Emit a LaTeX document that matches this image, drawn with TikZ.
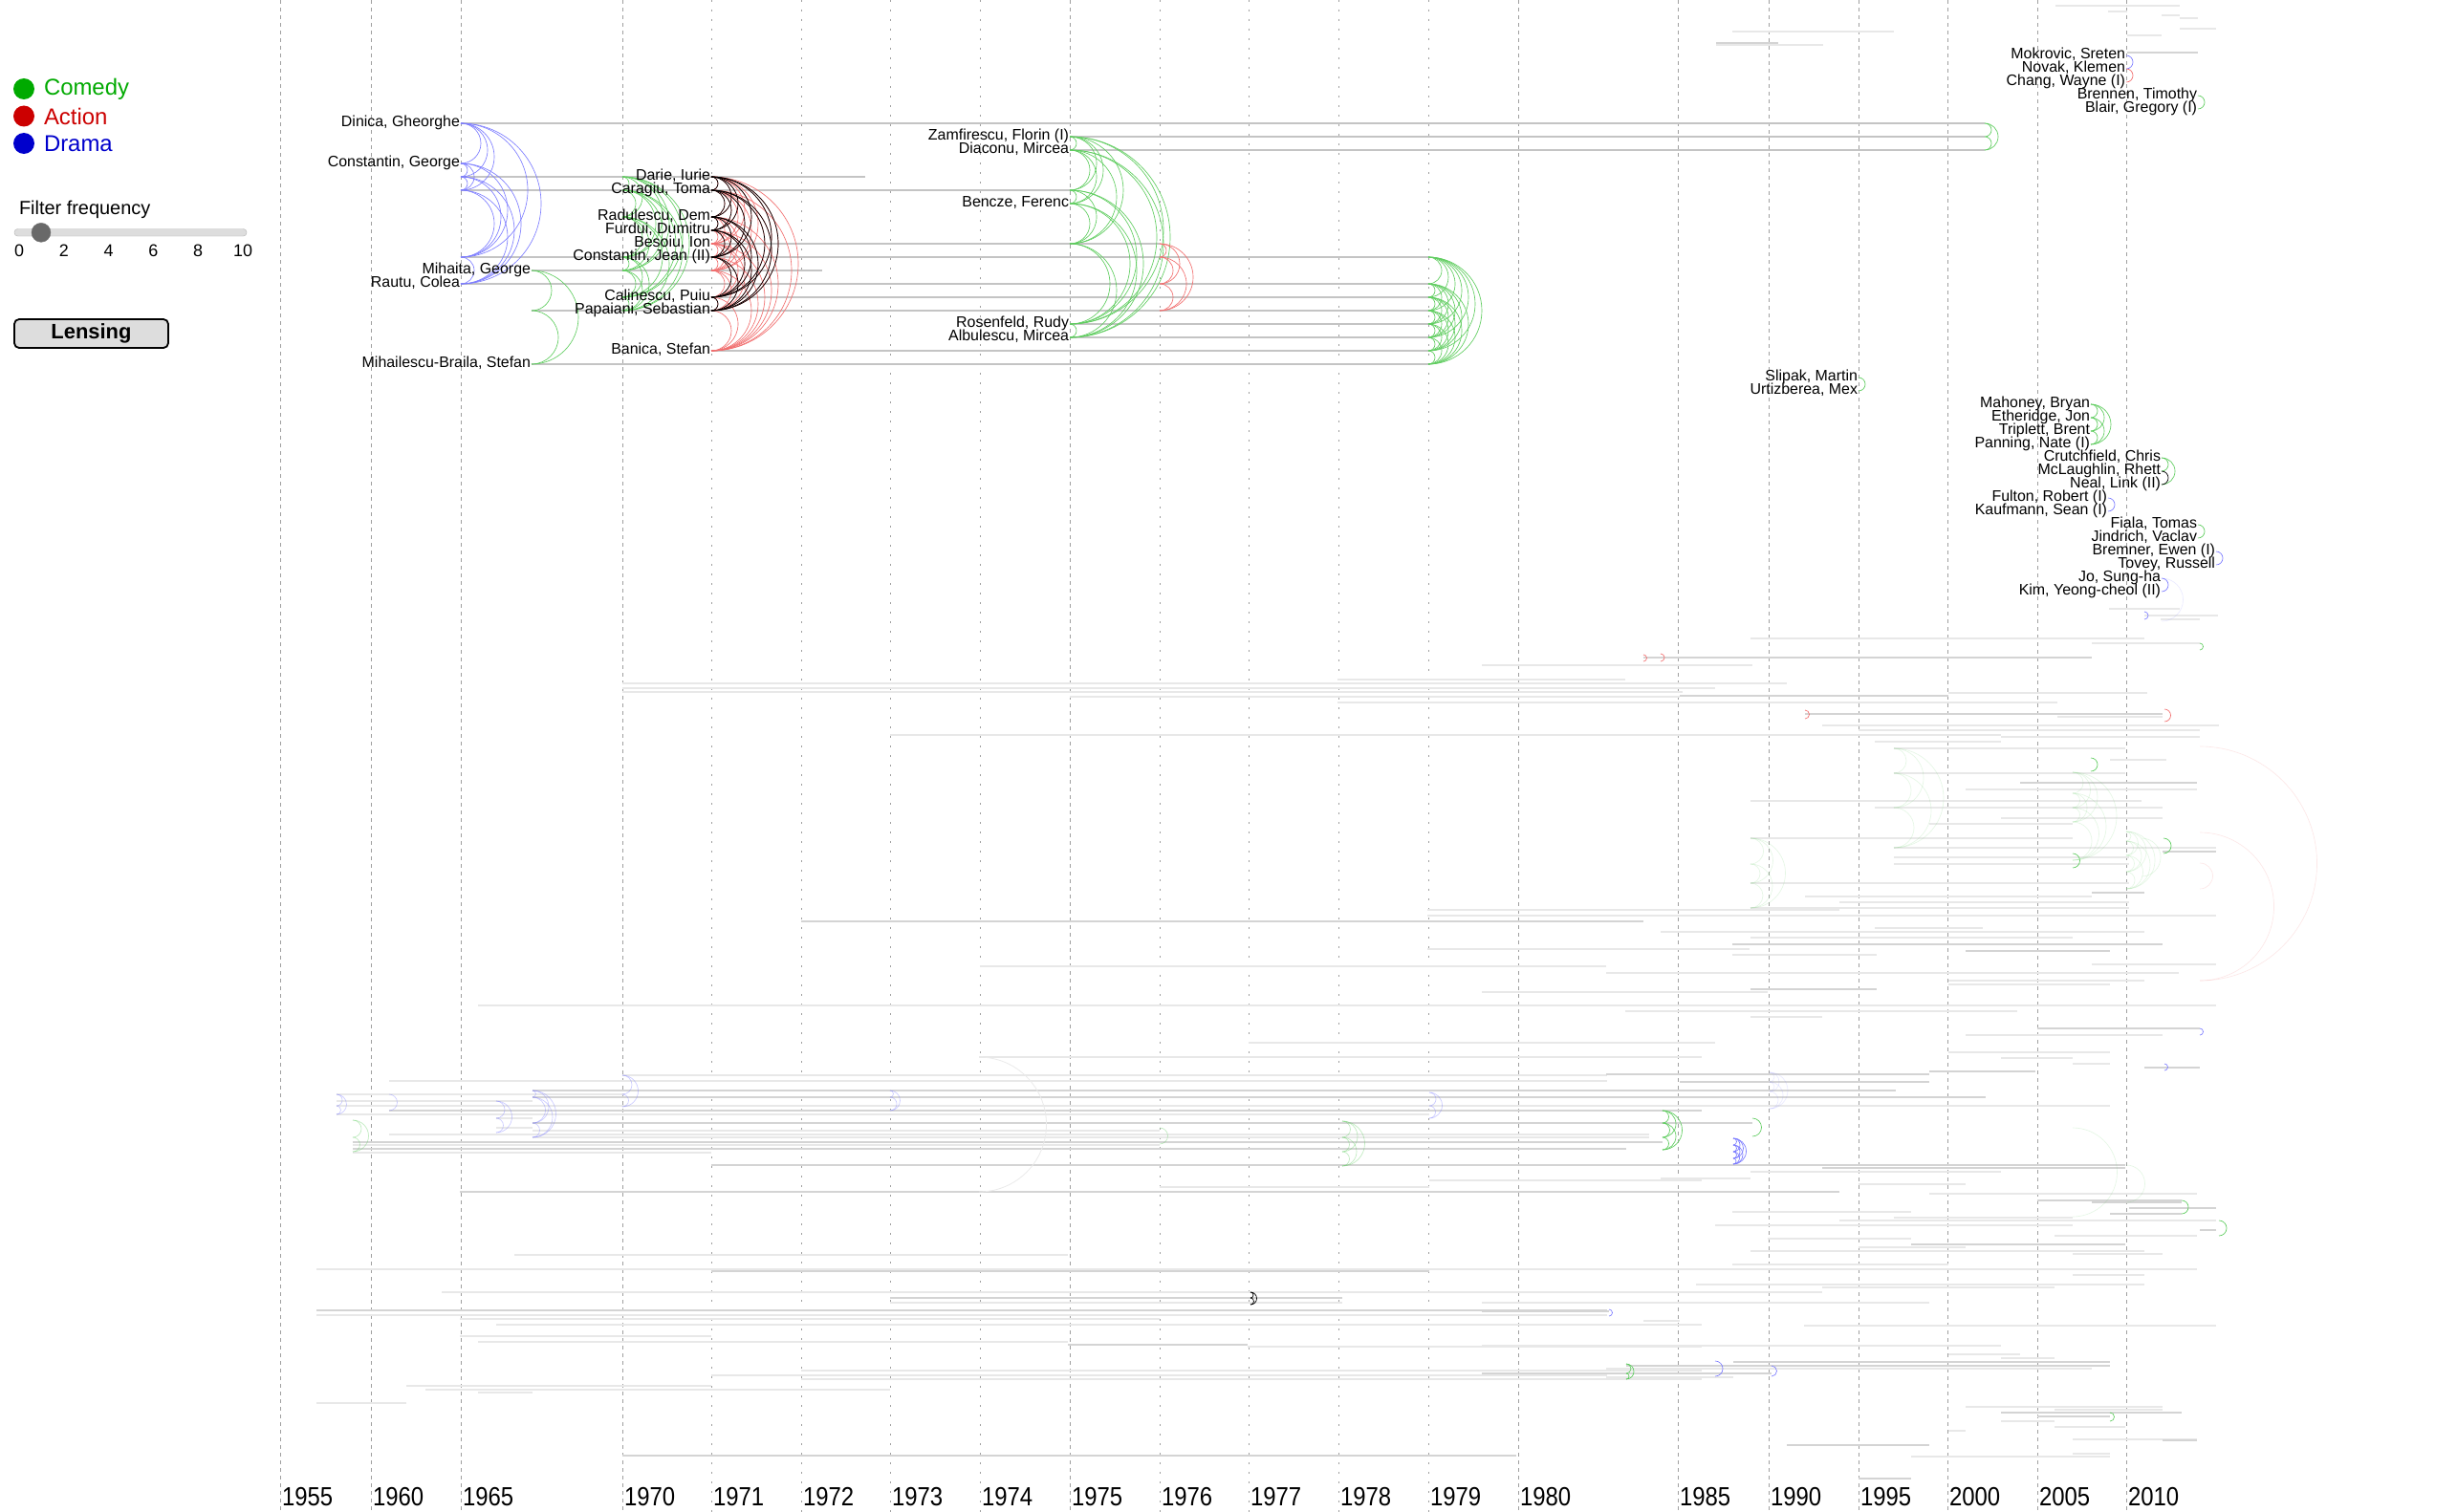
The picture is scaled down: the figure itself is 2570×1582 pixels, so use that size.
\documentclass[tikz,border=0pt]{standalone}
\usepackage{fontspec}
\setmainfont{Liberation Sans}
\usepackage{graphicx}
\usetikzlibrary{positioning}
\definecolor{comedygreen}{RGB}{0,170,0}
\definecolor{actionred}{RGB}{204,0,0}
\definecolor{dramablue}{RGB}{0,0,204}
\definecolor{linkgreen}{RGB}{95,205,95}
\definecolor{linkred}{RGB}{242,110,110}
\definecolor{linkblue}{RGB}{125,125,255}
\definecolor{gridgray}{RGB}{160,160,160}
\definecolor{careergray}{RGB}{196,196,196}
\definecolor{slidergray}{RGB}{221,221,221}
\definecolor{knobgray}{RGB}{105,105,105}

% one shared film: half circle from row y1 down to row y2 at year x
\newcommand{\costar}[4][]{\draw[#1] (#2,#3) arc[start angle=-90,end angle=90,radius={(#4-#3)/2}];}
% every pair of rows in one film
\newcommand{\film}[3]{\foreach \ya [count=\ia] in {#2}{\foreach \yb [count=\ib] in {#2}{\ifnum\ib>\ia\relax\costar[#3]{#1}{\ya}{\yb}\fi}}}

\begin{document}
\begin{tikzpicture}[x=1bp,y=-1bp,
  every node/.style={inner sep=0pt,outer sep=0pt},
  actor/.style={anchor=base east,font=\fontsize{16}{16}\selectfont},
  yearlabel/.style={anchor=base west,font=\fontsize{24}{24}\selectfont},
  major/.style={draw=gridgray,line width=0.9bp,dash pattern=on 4bp off 4bp},
  minor/.style={draw=gridgray,line width=0.9bp,dash pattern=on 2bp off 8bp},
  career/.style={draw=careergray,line width=2.6bp},
  faint/.style={draw=black!9,line width=2bp},
  faintdk/.style={draw=black!17,line width=2.4bp},
  drama/.style={draw=linkblue,line width=0.65bp},
  comedy/.style={draw=linkgreen,line width=0.65bp},
  action/.style={draw=linkred,line width=0.65bp},
  mixed/.style={draw=black,line width=0.7bp},
  dim/.style={opacity=0.16},
  soft/.style={opacity=0.4}]
\path[use as bounding box,fill=white] (0,0) rectangle (2570,1582);

% time axis
\foreach \xx/\yr in {293/1955,388/1960,482/1965,651/1970,1119/1975,1588/1980,1755/1985,1850/1990,1944/1995,2037/2000,2131/2005,2224/2010}{
  \draw[major] (\xx,0) -- (\xx,1582);
  \node[yearlabel] (y\yr) at (\xx+2,1575) {\scalebox{1}[1.15]{\yr}};
}
\foreach \xx/\yr in {744/1971,838/1972,931/1973,1025/1974,1213/1976,1306/1977,1400/1978,1494/1979}{
  \draw[minor] (\xx,0) -- (\xx,1582);
  \node[yearlabel] (y\yr) at (\xx+2,1575) {\scalebox{1}[1.15]{\yr}};
}

% careers outside the lens
\foreach \xa/\xb/\yy in {2150/2280/6,2205/2225/12,2261/2280/16,2280/2299/19,2280/2318/30,2225/2261/37,1812/1981/33,1795/1907/47,
  2206/2280/637,2243/2320/644,2260/2301/648,1831/2243/668,2188/2301/673,1550/1833/696,1399/1700/711,651/1869/715,651/1794/720,
  651/1760/724,2038/2246/725,1119/1757/729,1399/1774/735,1774/2152/735,2152/2262/750,1906/2321/759,1944/2301/764,931/2093/769,
  2093/2301/771,1961/2093/776,1981/2223/783,2207/2266/795,1981/2223/809,2056/2298/826,1831/2240/838,1961/2262/845,2093/2262/856,
  2018/2168/862,1831/2168/877,1981/2318/887,1981/2227/897,1981/2227/904,1831/2227/924,1888/2188/938,1924/2227/944,1831/2227/950,
  1493/1924/952,1493/2318/958,1961/2074/971,1737/2243/975,1831/2168/981,1493/1830/993,1812/1963/999,2188/2318/1009,1025/1680/1011,
  1680/2279/1018,2038/2243/1026,2038/2207/1030,1550/1849/1038,500/2318/1052,1700/2110/1058,1831/1906/1064,2056/2262/1083,
  1306/1794/1091,2038/2207/1101,2093/2168/1107,2168/2207/1113,1024/1780/1106,651/1681/1125,407/1681/1131,352/653/1145,
  352/557/1152,352/2207/1157,352/1495/1166,519/557/1170,519/557/1180,557/1213/1183,407/1725/1187,557/1725/1190,369/1213/1198,
  369/744/1206,1213/1495/1242,1495/1780/1235,538/1117/1313,462/1586/1352,931/1404/1363,331/1681/1376,481/1213/1380,519/1780/1386,
  481/744/1398,500/1117/1404,1305/1780/1409,838/1780/1434,744/1681/1439,838/1780/1443,425/744/1450,445/931/1454,500/557/1457,
  331/425/1468,1831/2093/1226,1737/1831/1233,1944/2056/1239,2018/2298/1249,1812/1999/1268,1981/2168/1274,1924/2318/1277,
  1794/2168/1282,2149/2298/1293,1849/1999/1296,1944/2056/1305,1831/2243/1309,2168/2262/1312,1812/2038/1323,331/2298/1328,
  2168/2243/1334,1774/2243/1344,1906/2149/1347,1550/1906/1352,1550/2018/1363,1719/1757/1382,1887/2318/1387,1550/2093/1408,
  2038/2113/1417,2093/2149/1421,1680/2188/1432,1680/1813/1441,2056/2262/1472,2149/2262/1475,2093/2149/1487,2149/2223/1493,
  2038/2056/1497,2168/2298/1506,2168/2207/1521,1999/2207/1524}
  \draw[faint] (\xa,\yy) -- (\xb,\yy);
\foreach \xa/\xb/\yy in {1795/1860/45,2225/2299/55,1719/2188/688,1757/2038/728,1888/2262/747,2113/2298/819,2262/2318/891,
  2188/2243/934,838/1719/964,1812/2262/988,2056/2207/995,1831/1963/1035,2131/2301/1076,2243/2301/1117,2018/2129/1121,
  1680/2018/1124,1757/2018/1132,557/1983/1141,557/2077/1148,407/1780/1162,557/1833/1175,369/1739/1195,369/1701/1202,
  744/2223/1219,1906/2223/1222,481/1924/1247,2131/2282/1256,2188/2282/1258,2227/2318/1264,2207/2282/1270,2301/2318/1287,
  1999/2223/1302,744/1495/1330,931/1404/1358,331/1681/1371,1117/1305/1407,1681/1780/1437,1550/1683/1372,1813/2207/1425,
  1701/2207/1429,1550/1853/1437,2093/2282/1478,2131/2207/1482,2262/2298/1507,1869/2018/1512,1944/1999/1547,651/1586/1523}
  \draw[faintdk] (\xa,\yy) -- (\xb,\yy);

% small films outside the lens
\film{352}{1145,1157,1166}{drama,soft}
\film{407}{1145,1162}{drama,soft}
\film{519}{1152,1170,1185}{drama,soft}
\film{557}{1141,1148,1175,1190}{drama,soft}
\film{651}{1125,1145,1158}{drama,soft}
\film{931}{1141,1148,1162}{drama,soft}
\film{1495}{1143,1157,1170}{drama,soft}
\film{369}{1172,1190,1205}{comedy,soft}
\film{1213}{1180,1197}{comedy,soft}
\film{1404}{1173,1190,1205,1220}{comedy,soft}
\film{1308}{1352,1358,1365}{mixed}
\film{1813}{1191,1198,1205,1212,1218}{drama}
\film{1851}{1122,1132,1142,1160}{drama,dim}
\film{1739}{1162,1175,1190,1203}{comedy}
\film{1833}{1170,1189}{comedy}
\film{1701}{1427,1437,1443}{comedy}
\film{1794}{1424,1440}{drama}
\film{1853}{1429,1440}{drama}
\film{1683}{1370,1377}{drama}
\film{2207}{1478,1487}{comedy}
\film{2282}{1256,1270}{comedy}
\film{2321}{1277,1293}{comedy}
\film{2301}{673,680}{comedy}
\film{1737}{684,692}{action}
\film{1719}{685,692}{action}
\film{1888}{743,752}{action}
\film{2264}{742,755}{action}
\film{2243}{640,648}{drama}
\film{2301}{1076,1083}{drama}
\film{2264}{1113,1120}{drama}
\film{2187}{793,807}{comedy}
\film{2168}{893,908}{comedy}
\film{2263}{877,893}{comedy}
\film{1981}{783,809,845,887}{comedy,dim}
\film{1831}{877,904,924,950}{comedy,dim}
\film{2168}{808,830,845,860,900}{comedy,dim}
\film{2224}{870,880,895,912,930}{comedy,dim}
\film{2240}{877,917}{comedy,dim}
\film{2301}{781,1026}{action,dim}
\film{2301}{871,1026}{action,dim}
\film{2301}{903,930}{action,dim}
\film{2168}{1180,1273}{comedy,dim}
\film{2224}{1219,1258}{comedy,dim}
\costar[draw=black!8,line width=0.8bp]{1024}{1106}{1247}

% careers in the lens
\foreach \xa/\xb/\yy in {482/2076/129,1119/2076/143,1119/2076/157,482/905/185,482/1119/199,744/1213/255,482/1494/269,
  556/860/283,482/1494/297,744/1494/311,556/1494/325,1119/1494/339,1119/1494/353,744/1494/367,556/1494/381}
  \draw[career] (\xa,\yy) -- (\xb,\yy);

% films in the lens
\film{482}{129,171,185,199,269,297}{drama}
\film{556}{283,325,381}{comedy}
\film{651}{185,199,227,269,283,311,325}{comedy}
\film{744}{185,199,227,241,255,269,283,311,325,367}{action}
\film{744}{185,199,227,241,269,311,325}{mixed}
\film{1119}{143,157,199,213,255,339,353}{comedy}
\film{1213}{255,269,297,325}{action}
\film{1494}{269,297,311,325,339,353,367,381}{comedy}
\film{2076}{129,143,157}{comedy}
\film{2224}{58,72}{drama}
\film{2224}{72,86}{action}
\film{2299}{100,114}{comedy}
\film{1944}{395,409}{comedy}
\film{2187}{423,437,451,465}{comedy}
\film{2261}{479,493}{comedy}
\film{2261}{479,507}{comedy}
\film{2261}{493,507}{mixed}
\film{2205}{521,535}{drama}
\film{2299}{549,563}{comedy}
\film{2318}{577,591}{drama}
\film{2261}{605,619}{drama}
\film{2261}{605,650}{drama,dim}

% actor names
\node[actor] (dinica) at (481,132.5) {Dinica, Gheorghe};
\node[actor] (zamfirescu) at (1118,146.5) {Zamfirescu, Florin (I)};
\node[actor] (diaconu) at (1118,160.5) {Diaconu, Mircea};
\node[actor] (constg) at (481,174.5) {Constantin, George};
\node[actor] (darie) at (743,188.5) {Darie, Iurie};
\node[actor] (caragiu) at (743,202.5) {Caragiu, Toma};
\node[actor] (bencze) at (1118,216.5) {Bencze, Ferenc};
\node[actor] (radulescu) at (743,230.5) {Radulescu, Dem};
\node[actor] (furdui) at (743,244.5) {Furdui, Dumitru};
\node[actor] (besoiu) at (743,258.5) {Besoiu, Ion};
\node[actor] (constj) at (743,272.5) {Constantin, Jean (II)};
\node[actor] (mihaita) at (555,286.5) {Mihaita, George};
\node[actor] (rautu) at (481,300.5) {Rautu, Colea};
\node[actor] (calinescu) at (743,314.5) {Calinescu, Puiu};
\node[actor] (papaiani) at (743,328.5) {Papaiani, Sebastian};
\node[actor] (rosenfeld) at (1118,342.5) {Rosenfeld, Rudy};
\node[actor] (albulescu) at (1118,356.5) {Albulescu, Mircea};
\node[actor] (banica) at (743,370.5) {Banica, Stefan};
\node[actor] (mihailescu) at (555,384.5) {Mihailescu-Braila, Stefan};
\node[actor] (mokrovic) at (2223,61.5) {Mokrovic, Sreten};
\node[actor] (novak) at (2223,75.5) {Novak, Klemen};
\node[actor] (chang) at (2223,89.5) {Chang, Wayne (I)};
\node[actor] (brennen) at (2298,103.5) {Brennen, Timothy};
\node[actor] (blair) at (2298,117.5) {Blair, Gregory (I)};
\node[actor] (slipak) at (1943,398.5) {Slipak, Martin};
\node[actor] (urtizberea) at (1943,412.5) {Urtizberea, Mex};
\node[actor] (mahoney) at (2186,426.5) {Mahoney, Bryan};
\node[actor] (etheridge) at (2186,440.5) {Etheridge, Jon};
\node[actor] (triplett) at (2186,454.5) {Triplett, Brent};
\node[actor] (panning) at (2186,468.5) {Panning, Nate (I)};
\node[actor] (crutchfield) at (2260,482.5) {Crutchfield, Chris};
\node[actor] (mclaughlin) at (2260,496.5) {McLaughlin, Rhett};
\node[actor] (neal) at (2260,510.5) {Neal, Link (II)};
\node[actor] (fulton) at (2204,524.5) {Fulton, Robert (I)};
\node[actor] (kaufmann) at (2204,538.5) {Kaufmann, Sean (I)};
\node[actor] (fiala) at (2298,552.5) {Fiala, Tomas};
\node[actor] (jindrich) at (2298,566.5) {Jindrich, Vaclav};
\node[actor] (bremner) at (2317,580.5) {Bremner, Ewen (I)};
\node[actor] (tovey) at (2317,594.5) {Tovey, Russell};
\node[actor] (jo) at (2260,608.5) {Jo, Sung-ha};
\node[actor] (kim) at (2260,622.5) {Kim, Yeong-cheol (II)};

% legend
\node[circle,fill=comedygreen,minimum size=22bp] (comedydot) at (25,93) {};
\node[circle,fill=actionred,minimum size=22bp] (actiondot) at (25,121.5) {};
\node[circle,fill=dramablue,minimum size=22bp] (dramadot) at (25,150) {};
\node[right=10bp of comedydot,text=comedygreen,font=\fontsize{24}{24}\selectfont] (comedy) {Comedy};
\node[right=10bp of actiondot,text=actionred,font=\fontsize{24}{24}\selectfont] (action) {Action};
\node[right=10bp of dramadot,text=dramablue,font=\fontsize{24}{24}\selectfont] (drama) {Drama};

% frequency filter
\node[anchor=base west,font=\fontsize{20}{20}\selectfont] (filter) at (20,224) {Filter frequency};
\draw[draw=black!30,fill=slidergray,rounded corners=3.5bp] (15,239.5) rectangle (258,247);
\node[circle,fill=knobgray,draw=black!55,minimum size=20bp] (knob) at (43,243.3) {};
\foreach \v [count=\k from 0] in {0,2,...,10}
  \node[anchor=base,font=\fontsize{18}{18}\selectfont] (tick\v) at ({20+46.8*\k},268) {\v};

% lensing button
\node[draw,line width=1.8bp,rounded corners=5bp,fill=slidergray,minimum width=161bp,minimum height=30bp,
  font=\bfseries\fontsize{22}{22}\selectfont] (lensing) at (95.5,349) {Lensing};
\end{tikzpicture}
\end{document}
